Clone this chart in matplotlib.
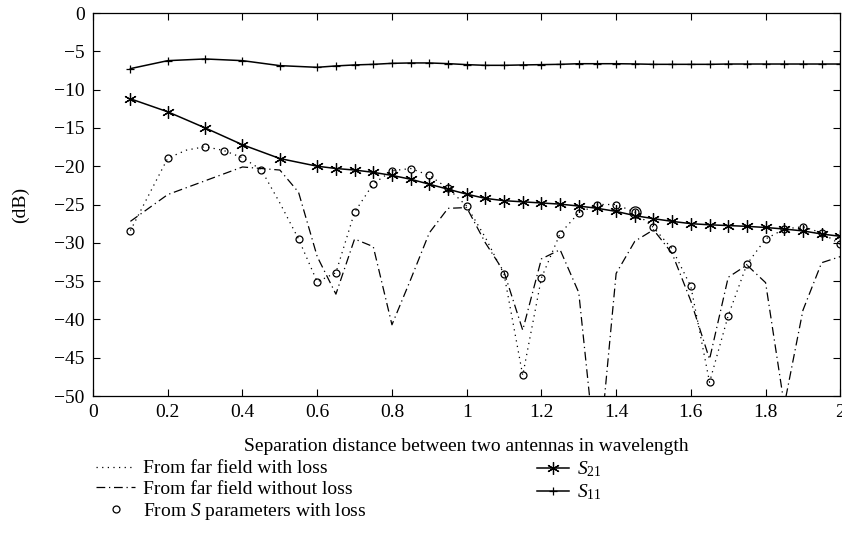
import numpy as np
import matplotlib
matplotlib.use("Agg")
import matplotlib.pyplot as plt
from matplotlib.ticker import FuncFormatter

plt.rcParams['font.family'] = ['Liberation Serif', 'DejaVu Serif']
plt.rcParams['mathtext.fontset'] = 'custom'
plt.rcParams['mathtext.rm'] = 'Liberation Serif'
plt.rcParams['mathtext.it'] = 'Liberation Serif:italic'
plt.rcParams['font.size'] = 14

# S11 / S21 (solid lines)
s_x = [0.1, 0.2, 0.3, 0.4, 0.5, 0.6, 0.65, 0.7, 0.75, 0.8, 0.85, 0.9, 0.95, 1.0,
       1.05, 1.1, 1.15, 1.2, 1.25, 1.3, 1.35, 1.4, 1.45, 1.5, 1.55, 1.6, 1.65,
       1.7, 1.75, 1.8, 1.85, 1.9, 1.95, 2.0]
s21 = [-11.2, -12.9, -15.0, -17.2, -19.0, -20.0, -20.3, -20.5, -20.8, -21.2, -21.7,
       -22.35, -23.0, -23.65, -24.2, -24.5, -24.65, -24.8, -24.95, -25.2, -25.5,
       -25.9, -26.45, -26.85, -27.2, -27.5, -27.65, -27.75, -27.85, -28.0, -28.2,
       -28.45, -28.85, -29.15]
s11 = [-7.26, -6.22, -6.0, -6.22, -6.87, -7.09, -6.91, -6.78, -6.7, -6.57, -6.52,
       -6.52, -6.61, -6.74, -6.83, -6.83, -6.78, -6.74, -6.7, -6.62, -6.62, -6.62,
       -6.65, -6.7, -6.7, -6.7, -6.7, -6.66, -6.66, -6.66, -6.66, -6.66, -6.66, -6.66]

# far field with loss (dotted)
ffl_x = [0.1, 0.2, 0.25, 0.3, 0.35, 0.4, 0.45, 0.5, 0.55, 0.6, 0.65, 0.7, 0.75, 0.8,
         0.85, 0.9, 0.95, 1.0, 1.05, 1.1, 1.15, 1.2, 1.25, 1.3, 1.35, 1.4, 1.45,
         1.5, 1.55, 1.6, 1.65, 1.7, 1.75, 1.8, 1.85, 1.9, 1.95, 2.0]
ffl_y = [-28.4, -18.95, -17.9, -17.45, -17.95, -18.9, -20.45, -24.8, -29.5, -35.1,
         -33.9, -26.0, -22.3, -20.6, -20.3, -21.2, -22.9, -25.2, -29.3, -34.1, -47.3,
         -34.6, -28.8, -26.1, -25.0, -25.0, -26.0, -28.0, -30.8, -35.7, -48.2, -39.5,
         -32.8, -29.5, -28.2, -27.9, -28.7, -30.2]

# far field without loss (dash-dot)
ff_x = [0.1, 0.2, 0.3, 0.4, 0.45, 0.5, 0.55, 0.6, 0.65, 0.7, 0.75, 0.8, 0.85, 0.9,
        0.95, 1.0, 1.05, 1.1, 1.15, 1.2, 1.25, 1.3, 1.35, 1.4, 1.45, 1.5, 1.55,
        1.6, 1.65, 1.7, 1.75, 1.8, 1.85, 1.9, 1.95, 2.0]
ff_y = [-27.2, -23.7, -21.9, -20.1, -20.3, -20.5, -23.4, -31.8, -36.7, -29.5, -30.5,
        -40.7, -34.8, -28.7, -25.5, -25.4, -30.0, -33.8, -41.4, -32.1, -30.9, -36.5,
        -60.0, -34.0, -29.8, -28.3, -31.4, -37.6, -45.2, -34.5, -32.9, -35.2, -51.2,
        -38.8, -32.6, -31.8]

# from S parameters with loss (circles)
sp_x = [0.1, 0.2, 0.3, 0.35, 0.4, 0.45, 0.55, 0.6, 0.65, 0.7, 0.75, 0.8, 0.85, 0.9,
        0.95, 1.0, 1.1, 1.15, 1.2, 1.25, 1.3, 1.35, 1.4, 1.45, 1.5, 1.55, 1.6, 1.65,
        1.7, 1.75, 1.8, 1.85, 1.9, 1.95, 2.0]
sp_y = [-28.4, -18.95, -17.45, -17.95, -18.9, -20.45, -29.5, -35.1, -33.9, -26.0,
        -22.3, -20.6, -20.3, -21.2, -22.9, -25.2, -34.1, -47.3, -34.6, -28.8, -26.1,
        -25.0, -25.0, -26.0, -28.0, -30.8, -35.7, -48.2, -39.5, -32.8, -29.5, -28.2,
        -27.9, -28.7, -30.2]

xticks = [0, 0.2, 0.4, 0.6, 0.8, 1, 1.2, 1.4, 1.6, 1.8, 2]
yticks = list(range(-50, 1, 5))

fig = plt.figure(figsize=(8.42, 5.58), dpi=100)
ax = fig.add_axes([0.1105, 0.2903, 0.8875, 0.6864])

lw = 0.9
l_dot, = ax.plot(ffl_x, ffl_y, color='k', lw=lw, linestyle=(0, (1, 3.5)))
l_dd, = ax.plot(ff_x, ff_y, color='k', lw=lw, linestyle=(0, (7, 3, 1, 3)))
l_sp, = ax.plot(sp_x, sp_y, linestyle='none', marker='o', ms=5, mfc='none',
                mec='k', mew=0.9)
# the one bigger circle at 1.45
i_big = sp_x.index(1.45)
ax.plot([sp_x[i_big]], [sp_y[i_big]], linestyle='none', marker='o', ms=8,
        mfc='none', mec='k', mew=0.9)
l_s21, = ax.plot(s_x, s21, color='k', lw=1.1, marker=(6, 2, 0), ms=9, mew=0.9)
l_s11, = ax.plot(s_x, s11, color='k', lw=1.1, marker='+', ms=6, mew=0.9)

ax.set_xlim(0, 2)
ax.set_ylim(-50, 0)
ax.set_xticks(xticks)
ax.set_yticks(yticks)
ax.xaxis.set_major_formatter(FuncFormatter(lambda v, p: '%g' % v))
ax.tick_params(direction='in', top=True, right=True, length=5, width=0.8,
               labelsize=14, pad=6)
for sp in ax.spines.values():
    sp.set_linewidth(0.9)

ax.set_xlabel('Separation distance between two antennas in wavelength', labelpad=12)
ax.set_ylabel('(dB)', labelpad=18)

leg1 = fig.legend([l_dot, l_dd, l_sp],
                  ['From far field with loss', 'From far field without loss',
                   'From $S$ parameters with loss'],
                  loc='upper left', bbox_to_anchor=(0.105, 0.19),
                  frameon=False, handlelength=2.0, handletextpad=0.4,
                  labelspacing=0.15, fontsize=14, borderaxespad=0)
leg2 = fig.legend([l_s21, l_s11], ['$S_{21}$', '$S_{11}$'],
                  loc='upper left', bbox_to_anchor=(0.629, 0.19),
                  frameon=False, handlelength=1.65, handletextpad=0.4,
                  labelspacing=0.15, fontsize=14, borderaxespad=0)

fig.savefig('out.png', dpi=100)
